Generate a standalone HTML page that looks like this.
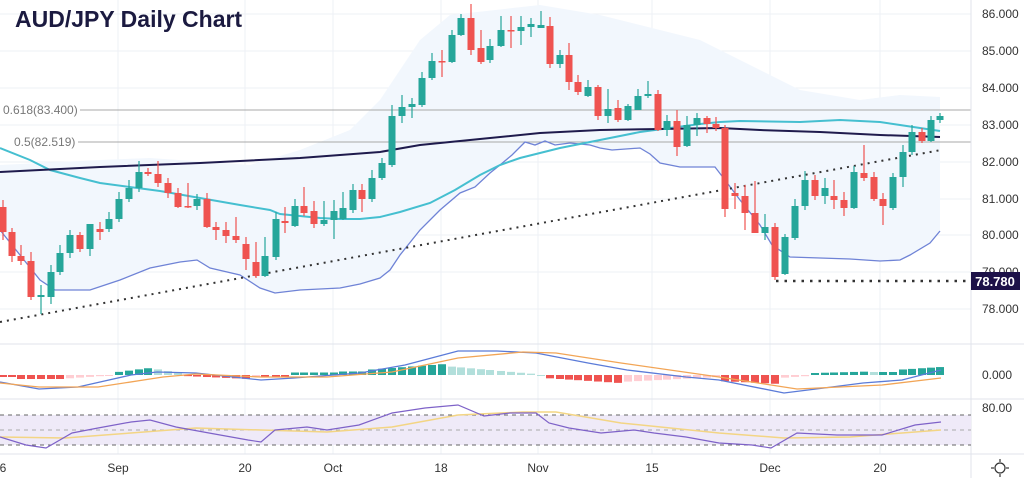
<!DOCTYPE html>
<html><head><meta charset="utf-8"><style>
html,body{margin:0;padding:0;background:#fff;}
svg{display:block;font-family:"Liberation Sans",sans-serif;}
</style></head><body>
<svg id="c" width="1024" height="478" viewBox="0 0 1024 478" xmlns="http://www.w3.org/2000/svg">
<rect width="1024" height="478" fill="#fff"/>
<g id="grid" stroke="#eef1f6" stroke-width="1"></g>
<path id="bb" fill="#f2f7fd" stroke="none"/>
<g id="fib" stroke="#a8a8a8" stroke-width="1">
<line x1="80" y1="110" x2="971" y2="110"/><line x1="78" y1="142" x2="971" y2="142"/>
</g>
<text x="3" y="114" font-size="12" fill="#777">0.618(83.400)</text>
<text x="14" y="146" font-size="12" fill="#777">0.5(82.519)</text>
<polyline id="lowb" fill="none" stroke="#6f83d6" stroke-width="1.3"/>
<polyline id="mid" fill="none" stroke="#45bfd0" stroke-width="2"/>
<polyline id="sma" fill="none" stroke="#1f1b4d" stroke-width="2"/>
<line x1="0" y1="322" x2="941" y2="150" stroke="#333" stroke-width="2" stroke-dasharray="2,5"/>
<line x1="776" y1="281" x2="968" y2="281" stroke="#333" stroke-width="2.5" stroke-dasharray="2.5,6"/>
<g id="candles"></g>
<text x="15" y="27" font-size="23" font-weight="bold" fill="#1b1a40">AUD/JPY Daily Chart</text>
<line x1="0" y1="344" x2="1024" y2="344" stroke="#e0e3eb"/>
<line x1="0" y1="399" x2="1024" y2="399" stroke="#e0e3eb"/>
<line x1="0" y1="454" x2="1024" y2="454" stroke="#e0e3eb"/>
<line x1="971" y1="0" x2="971" y2="478" stroke="#e0e3eb"/>
<g id="hist"></g>
<polyline id="macd" fill="none" stroke="#5b7bd8" stroke-width="1.3"/>
<polyline id="sig" fill="none" stroke="#f2a556" stroke-width="1.3"/>
<rect x="0" y="415" width="971" height="30" fill="#efeaf8"/>
<g stroke="#666" stroke-dasharray="4,4" stroke-width="1">
<line x1="0" y1="415" x2="971" y2="415"/><line x1="0" y1="430" x2="971" y2="430" stroke="#aaa"/><line x1="0" y1="445" x2="971" y2="445"/>
</g>
<polyline id="rsima" fill="none" stroke="#f3d584" stroke-width="1.5"/>
<polyline id="rsi" fill="none" stroke="#7e62c8" stroke-width="1.2"/>
<g id="axis" font-size="12" fill="#333"></g>
<rect x="971" y="272" width="49" height="18" fill="#1c1148"/>
<text x="995" y="286" font-size="13" fill="#fff" text-anchor="middle" font-weight="bold">78.780</text>
<g transform="translate(1000,468)" stroke="#333" fill="none" stroke-width="1.2">
<circle r="5"/><line x1="0" y1="-9" x2="0" y2="-6"/><line x1="0" y1="6" x2="0" y2="9"/><line x1="-9" y1="0" x2="-6" y2="0"/><line x1="6" y1="0" x2="9" y2="0"/>
</g>
</svg>
<script>
const NS="http://www.w3.org/2000/svg";
function el(p,t,a){const e=document.createElementNS(NS,t);for(const k in a)e.setAttribute(k,a[k]);p.appendChild(e);return e;}
function pts(a){return a.map(p=>p.join(',')).join(' ');}
const g=document.getElementById('grid');
[118,245,333,441,538,652,770,880].forEach(x=>el(g,'line',{x1:x,y1:0,x2:x,y2:454}));
[14,51,88,125,162,199,235,272,309].forEach(y=>el(g,'line',{x1:0,y1:y,x2:971,y2:y}));
const up=[[0,165],[100,160],[150,158],[250,165],[300,150],[350,130],[380,100],[420,40],[450,15],[540,5],[600,15],[700,40],[760,70],[800,90],[860,100],[900,95],[940,97]];
const low=[[0,230],[20,255],[40,280],[55,290],[70,290],[90,290],[120,280],[150,268],[180,262],[197,260],[210,268],[240,275],[260,288],[275,293],[300,290],[340,288],[360,284],[380,278],[390,270],[400,255],[420,230],[440,210],[460,193],[475,187],[490,173],[500,165],[512,155],[525,142],[535,145],[545,141],[555,145],[570,143],[590,145],[600,148],[612,150],[640,148],[650,154],[660,163],[680,167],[715,167],[725,180],[740,200],[760,225],[772,245],[790,257],[820,258],[850,259],[880,261],[900,260],[910,255],[930,243],[940,231]];
document.getElementById('bb').setAttribute('d','M'+up.map(p=>p.join(',')).join(' L')+' L'+low.slice().reverse().map(p=>p.join(',')).join(' L')+' Z');
document.getElementById('lowb').setAttribute('points',pts(low));
document.getElementById('mid').setAttribute('points',pts([[0,148],[30,160],[50,170],[80,178],[100,183],[160,191],[200,198],[240,205],[270,210],[280,214],[320,218],[340,219],[360,219],[380,217],[400,212],[430,203],[455,190],[480,175],[500,165],[520,158],[560,148],[600,140],[640,132],[670,128],[700,124],[720,122],[740,121],[800,122],[840,120],[880,122],[900,125],[920,128],[940,131]]));
document.getElementById('sma').setAttribute('points',pts([[0,172],[100,167],[200,163],[300,158],[380,152],[420,145],[480,139],[540,133],[600,130],[660,129],[720,128],[760,130],[820,132],[880,135],[940,137]]));
const C=[[3,'r',207,232,200,240],[12,'r',232,256,228,262],[21,'r',256,261,245,265],[31,'r',261,297,252,300],[41,'g',295,297,285,314],[51,'g',272,297,265,304],[60,'g',253,272,245,275],[70,'g',235,253,230,258],[80,'r',235,249,232,252],[90,'g',224,249,224,256],[100,'r',229,232,222,240],[109,'g',219,229,212,232],[119,'g',199,219,192,222],[129,'g',188,199,180,202],[139,'g',172,188,161,192],[148,'r',172,174,168,176],[158,'r',174,183,161,187],[168,'r',183,193,178,198],[178,'r',193,207,188,208],[188,'r',206,207,183,208],[197,'g',199,206,194,210],[207,'r',199,227,193,228],[216,'r',227,230,222,240],[226,'r',230,236,222,243],[236,'r',236,240,217,243],[246,'r',244,259,237,270],[256,'r',262,276,242,278],[265,'g',256,276,237,277],[276,'g',219,257,212,260],[285,'r',221,223,207,233],[295,'g',206,226,199,227],[304,'r',206,213,187,216],[314,'r',211,224,201,228],[324,'g',220,224,201,226],[334,'g',211,220,200,239],[343,'g',208,219,192,220],[353,'g',190,210,184,213],[362,'r',190,199,184,212],[372,'g',178,199,170,202],[382,'g',163,178,158,180],[392,'g',116,165,105,167],[402,'g',107,116,95,123],[412,'g',104,107,98,118],[422,'g',78,105,72,107],[432,'g',61,78,53,80],[442,'r',61,62,50,77],[452,'g',35,62,30,63],[461,'g',18,35,14,36],[471,'r',18,50,4,55],[481,'r',48,62,30,64],[490,'g',46,60,39,63],[501,'g',30,46,16,47],[511,'r',30,31,16,48],[521,'g',27,31,16,45],[531,'g',24,27,18,37],[541,'g',25,28,11,28],[550,'r',26,64,17,68],[560,'g',55,64,50,68],[569,'r',55,82,43,90],[578,'r',82,92,75,95],[588,'g',87,96,80,97],[598,'r',87,116,85,120],[608,'g',109,116,89,123],[618,'r',108,120,100,122],[628,'g',106,120,104,121],[638,'g',96,110,89,110],[648,'g',94,96,81,98],[658,'r',94,130,90,131],[667,'g',121,130,115,136],[677,'r',121,147,110,156],[687,'g',125,146,116,147],[697,'g',118,125,113,136],[707,'r',118,124,116,133],[716,'r',124,128,117,131],[725,'r',128,209,125,217],[735,'r',193,196,183,209],[745,'r',196,213,185,230],[755,'r',213,233,181,233],[765,'g',227,233,214,240],[775,'r',227,277,223,280],[785,'g',237,274,234,275],[795,'g',206,238,199,240],[805,'g',180,206,171,210],[815,'r',180,196,175,200],[825,'g',188,196,178,204],[834,'r',196,200,180,209],[844,'r',200,208,192,216],[854,'g',172,208,166,209],[864,'r',173,178,145,181],[874,'r',177,199,172,201],[883,'r',199,206,193,225],[893,'g',177,208,173,210],[903,'g',152,177,145,187],[912,'g',132,152,125,155],[922,'r',132,141,128,143],[931,'g',120,141,116,142],[940,'g',116,120,113,123]];
const cg=document.getElementById('candles');
C.forEach(c=>{const col=c[1]=='g'?'#26a69a':'#ef5350';
el(cg,'line',{x1:c[0],y1:c[4],x2:c[0],y2:c[5],stroke:col,'stroke-width':1.2});
el(cg,'rect',{x:c[0]-3.5,y:c[2],width:7,height:Math.max(1.5,c[3]-c[2]),fill:col});});
function hv(x){
 if(x<20)return -2; if(x<60)return -4; if(x<110)return -4+(x-60)/50*3.5;
 if(x<150)return 2+(x-110)/40*5; if(x<185)return 7-(x-150)/35*6;
 if(x<250)return -1-(x-185)/65*3; if(x<292)return -2;
 if(x<340)return 2.5; if(x<365)return 3.5; if(x<445)return 5+(x-365)/80*6;
 if(x<535)return 9-(x-445)/90*8; if(x<545)return 0;
 if(x<620)return -3-(x-545)/75*5; if(x<720)return -7+(x-620)/100*5;
 if(x<780)return -6-(x-720)/60*3; if(x<815)return -3+(x-780)/35*2.5;
 if(x<870)return 2+(x-815)/55*1.5; if(x<895)return 3; return 5+(x-895)/46*3;}
const hg=document.getElementById('hist');let prev=0;
C.forEach(c=>{const x=c[0];const v=hv(x);let col;
 if(v>=0)col=v>=prev?'#26a69a':'#b2dfdb';else col=v<=prev?'#ef5350':'#ffcdd2';
 prev=v;const h=Math.abs(v);el(hg,'rect',{x:x-4,y:v>=0?375-h:375,width:8,height:Math.max(1,h),fill:col});});
document.getElementById('macd').setAttribute('points',pts([[0,382],[39,389],[78,387],[131,375],[157,372],[196,373],[261,380],[294,378],[360,373],[405,365],[458,351],[497,351],[536,353],[588,363],[627,370],[686,377],[719,380],[784,393],[824,388],[863,383],[902,380],[941,370]]));
document.getElementById('sig').setAttribute('points',pts([[0,383],[39,387],[98,387],[163,377],[196,374],[261,377],[327,377],[392,372],[458,358],[523,352],[556,353],[621,363],[719,377],[797,389],[882,385],[941,378]]));
document.getElementById('rsi').setAttribute('points',pts([[0,437],[26,445],[46,448],[72,433],[98,428],[131,422],[150,420],[176,427],[209,433],[248,440],[261,442],[275,430],[307,427],[327,430],[359,425],[392,413],[425,408],[458,405],[484,416],[510,413],[536,413],[549,423],[569,428],[601,433],[634,430],[654,433],[686,437],[719,443],[752,445],[771,448],[797,433],[837,435],[882,435],[915,425],[941,422]]));
document.getElementById('rsima').setAttribute('points',pts([[0,437],[65,438],[131,433],[196,428],[261,430],[327,432],[392,427],[458,415],[523,412],[556,412],[621,423],[719,433],[784,438],[850,437],[941,430]]));
const ax=document.getElementById('axis');
[['86.000',14],['85.000',51],['84.000',88],['83.000',125],['82.000',162],['81.000',199],['80.000',235],['79.000',272],['78.000',309],['0.000',375],['80.00',408]].forEach(l=>{const t=el(ax,'text',{x:982,y:l[1]+4});t.textContent=l[0];});
[['6',3],['Sep',118],['20',245],['Oct',333],['18',441],['Nov',538],['15',652],['Dec',770],['20',880]].forEach(l=>{const t=el(ax,'text',{x:l[1],y:472,'text-anchor':'middle'});t.textContent=l[0];});
</script>
</body></html>
